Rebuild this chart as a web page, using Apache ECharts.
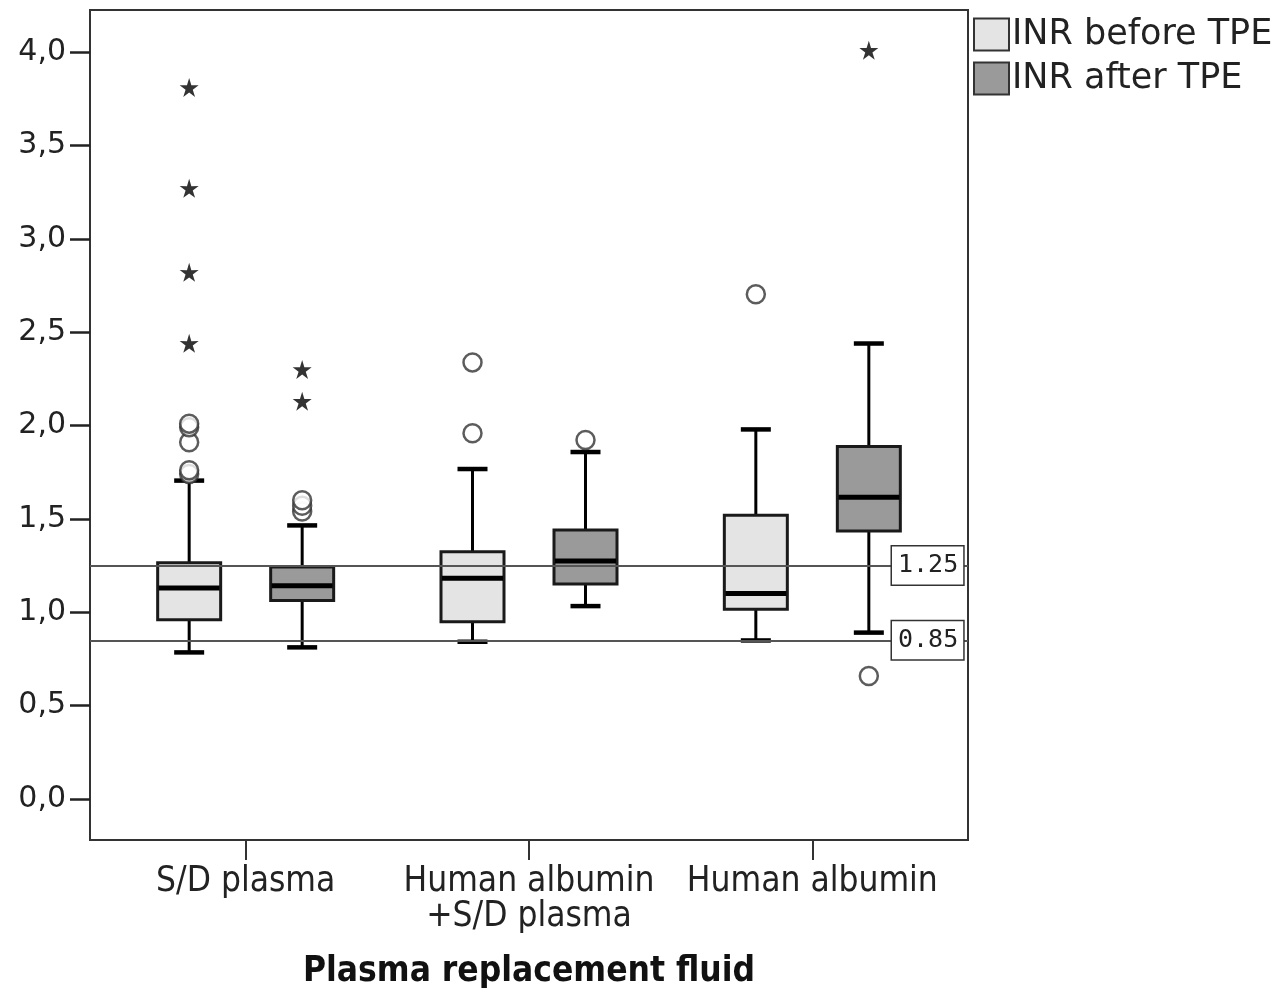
<!DOCTYPE html>
<html>
<head>
<meta charset="utf-8">
<script src="https://cdn.jsdelivr.net/npm/echarts@6/dist/echarts.min.js"></script>
<style>
  html, body { margin: 0; padding: 0; background: #fff; }
  #chart { width: 1283px; height: 998px; }
</style>
</head>
<body>
<div id="chart"></div>
<script>
// categories on the x axis
const categories = ['S/D plasma', 'Human albumin\n+S/D plasma', 'Human albumin'];

// box data per category: [lower whisker, Q1, median, Q3, upper whisker]
const beforeBoxes = [
  [0.785, 0.960, 1.130, 1.265, 1.705],
  [0.842, 0.949, 1.182, 1.324, 1.767],
  [0.849, 1.016, 1.100, 1.519, 1.979]
];
const afterBoxes = [
  [0.812, 1.063, 1.142, 1.242, 1.465],
  [1.033, 1.151, 1.274, 1.440, 1.858],
  [0.891, 1.435, 1.616, 1.888, 2.439]
];

// outliers (circles) and extremes (stars): [category index, value]
const beforeOutliers = [[0, 1.74], [0, 1.76], [0, 1.91], [0, 1.99], [0, 2.01], [1, 1.958], [1, 2.338], [2, 2.703]];
const beforeExtremes = [[0, 2.44], [0, 2.82], [0, 3.27], [0, 3.81]];
const afterOutliers = [[0, 1.54], [0, 1.57], [0, 1.60], [1, 1.922], [2, 0.659]];
const afterExtremes = [[0, 2.13], [0, 2.30], [2, 4.01]];

// reference lines and y ticks
const refLines = [1.25, 0.85];
const yTicks = [0, 0.5, 1, 1.5, 2, 2.5, 3, 3.5, 4];

const seriesNames = ['INR before TPE', 'INR after TPE'];
const fills = ['#e4e4e4', '#9a9a9a'];

const Y_MIN = -0.2195, Y_MAX = 4.2249;
const OFFSET = 56.5;   // px from category centre
const BOX_W = 63;
const CAP_W = 30;
const STAR = 'path://M0,-10 L2.2,-3 L9.5,-3.1 L3.6,1.2 L5.9,8.1 L0,3.9 L-5.9,8.1 L-3.6,1.2 L-9.5,-3.1 L-2.2,-3 Z';

function boxRenderer(offset) {
  return function (params, api) {
    const idx = api.value(0);
    const lo = api.coord([idx, api.value(1)]);
    const q1 = api.coord([idx, api.value(2)]);
    const md = api.coord([idx, api.value(3)]);
    const q3 = api.coord([idx, api.value(4)]);
    const hi = api.coord([idx, api.value(5)]);
    const x = lo[0] + offset;
    const half = BOX_W / 2, cap = CAP_W / 2;
    const stem = { stroke: '#000', lineWidth: 3 };
    const capStyle = { stroke: '#000', lineWidth: 4.5 };
    return {
      type: 'group',
      children: [
        { type: 'line', shape: { x1: x, y1: hi[1], x2: x, y2: q3[1] }, style: stem },
        { type: 'line', shape: { x1: x, y1: q1[1], x2: x, y2: lo[1] }, style: stem },
        { type: 'line', shape: { x1: x - cap, y1: hi[1], x2: x + cap, y2: hi[1] }, style: capStyle },
        { type: 'line', shape: { x1: x - cap, y1: lo[1], x2: x + cap, y2: lo[1] }, style: capStyle },
        { type: 'rect', shape: { x: x - half, y: q3[1], width: BOX_W, height: q1[1] - q3[1] },
          style: { fill: api.visual('color'), stroke: '#1a1a1a', lineWidth: 3 } },
        { type: 'line', shape: { x1: x - half + 1, y1: md[1], x2: x + half - 1, y2: md[1] },
          style: { stroke: '#000', lineWidth: 5 } }
      ]
    };
  };
}

function boxData(boxes) {
  return boxes.map((b, i) => [i].concat(b));
}

const chart = echarts.init(document.getElementById('chart'));
const option = {
  animation: false,
  backgroundColor: '#fff',
  textStyle: { fontFamily: 'DejaVu Sans', color: '#222' },
  legend: {
    data: seriesNames,
    orient: 'vertical',
    left: 968,
    top: 12,
    itemWidth: 35,
    itemHeight: 32,
    itemGap: 9,
    icon: 'rect',
    itemStyle: { borderColor: '#333', borderWidth: 2 },
    textStyle: { fontSize: 35, fontFamily: 'DejaVu Sans', color: '#222', padding: [0, 0, 0, -2] }
  },
  grid: [
    // frame + y axis
    { left: 90, right: 315, top: 10, bottom: 158, show: true, borderColor: '#333', borderWidth: 2, backgroundColor: 'transparent' },
    // categories
    { left: 104, right: 329, top: 10, bottom: 158 }
  ],
  xAxis: [
    { gridIndex: 0, type: 'value', min: 0, max: 1, show: false },
    {
      gridIndex: 1,
      type: 'category',
      data: categories,
      axisLine: { show: false, onZero: false },
      axisTick: { show: true, alignWithLabel: true, length: 20, lineStyle: { color: '#333', width: 2 } },
      axisLabel: { interval: 0, margin: 24, fontSize: 35, lineHeight: 35, fontFamily: 'DejaVu Sans Condensed', color: '#222' },
      name: 'Plasma replacement fluid',
      nameLocation: 'middle',
      nameGap: 132,
      nameTextStyle: { fontSize: 35, fontWeight: 'bold', fontFamily: 'DejaVu Sans Condensed', color: '#111', verticalAlign: 'middle' }
    }
  ],
  yAxis: [
    {
      gridIndex: 0,
      type: 'value',
      min: Y_MIN,
      max: Y_MAX,
      axisLine: { show: false },
      splitLine: { show: false },
      axisTick: { show: true, length: 20, customValues: yTicks, lineStyle: { color: '#222', width: 2.5 } },
      axisLabel: {
        customValues: yTicks,
        margin: 24,
        fontSize: 30,
        color: '#222',
        formatter: v => v.toFixed(1).replace('.', ',')
      }
    },
    { gridIndex: 1, type: 'value', min: Y_MIN, max: Y_MAX, show: false }
  ],
  series: [
    {
      name: seriesNames[0],
      type: 'custom',
      xAxisIndex: 1, yAxisIndex: 1,
      itemStyle: { color: fills[0] },
      encode: { x: 0, y: [1, 2, 3, 4, 5] },
      renderItem: boxRenderer(-OFFSET),
      data: boxData(beforeBoxes),
      z: 2
    },
    {
      name: seriesNames[1],
      type: 'custom',
      xAxisIndex: 1, yAxisIndex: 1,
      itemStyle: { color: fills[1] },
      encode: { x: 0, y: [1, 2, 3, 4, 5] },
      renderItem: boxRenderer(OFFSET),
      data: boxData(afterBoxes),
      z: 2
    },
    {
      name: 'before outliers', type: 'scatter', xAxisIndex: 1, yAxisIndex: 1, clip: false,
      symbol: 'circle', symbolSize: 18, symbolOffset: [-OFFSET, 0],
      itemStyle: { color: '#fff', borderColor: '#333', borderWidth: 2.5 },
      data: beforeOutliers, z: 4
    },
    {
      name: 'after outliers', type: 'scatter', xAxisIndex: 1, yAxisIndex: 1, clip: false,
      symbol: 'circle', symbolSize: 18, symbolOffset: [OFFSET, 0],
      itemStyle: { color: '#fff', borderColor: '#333', borderWidth: 2.5 },
      data: afterOutliers, z: 4
    },
    {
      name: 'before extremes', type: 'scatter', xAxisIndex: 1, yAxisIndex: 1, clip: false,
      symbol: STAR, symbolSize: 19, symbolOffset: [-OFFSET, 0],
      itemStyle: { color: '#000' },
      data: beforeExtremes, z: 4
    },
    {
      name: 'after extremes', type: 'scatter', xAxisIndex: 1, yAxisIndex: 1, clip: false,
      symbol: STAR, symbolSize: 19, symbolOffset: [OFFSET, 0],
      itemStyle: { color: '#000' },
      data: afterExtremes, z: 4
    },
    {
      name: 'reference', type: 'line', xAxisIndex: 0, yAxisIndex: 0, data: [], z: 3,
      markLine: {
        silent: true,
        symbol: ['none', 'none'],
        lineStyle: { color: '#555', width: 2, type: 'solid' },
        label: {
          show: true,
          position: 'end',
          distance: -76,
          formatter: p => String(p.value),
          fontFamily: 'DejaVu Sans Mono',
          fontSize: 25,
          color: '#222',
          backgroundColor: '#fff',
          borderColor: '#333',
          borderWidth: 1.5,
          padding: [7, 5, 6, 6]
        },
        data: refLines.map(v => ({ yAxis: v }))
      }
    }
  ]
};
chart.setOption(option);
</script>
</body>
</html>
